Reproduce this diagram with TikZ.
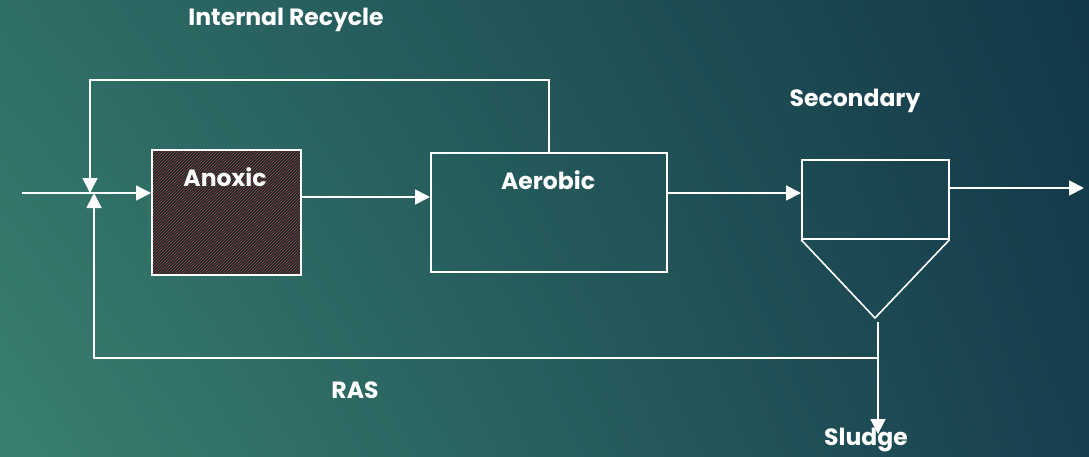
\documentclass[tikz,border=0pt]{standalone}
\usepackage{fontspec}
\setmainfont{Poppins}
\usetikzlibrary{arrows.meta,patterns,shadings}
\definecolor{bgTL}{HTML}{2F6E66}
\definecolor{bgTR}{HTML}{123848}
\definecolor{bgBL}{HTML}{3A8070}
\definecolor{bgBR}{HTML}{173F4E}
\definecolor{tankfill}{HTML}{172826}
\definecolor{hatch}{HTML}{94474A}
\tikzset{
  x=1pt, y=-1pt,
  flow/.style={draw=white, line width=1.8pt, -{Triangle[length=15pt,width=15pt]}},
  pipe/.style={draw=white, line width=1.8pt},
  tank/.style={draw=white, line width=1.6pt},
  lbl/.style={text=white, font=\fontsize{23.5}{26}\selectfont\bfseries, inner sep=0pt},
}
\begin{document}
\begin{tikzpicture}
  % background
  \shade[upper left=bgTL, upper right=bgTR, lower left=bgBL, lower right=bgBR]
    (0,0) rectangle (1089,456);
  \useasboundingbox (0,0) rectangle (1089,456);

  % junction points
  \coordinate (valve) at (92,193);
  \coordinate (in) at (22,193);
  \coordinate (rtop) at (90,80);
  \coordinate (rasL) at (94,358);
  \coordinate (rasR) at (878,358);
  \coordinate (sludgeEnd) at (878,434);
  \coordinate (outEnd) at (1084,188);

  % tanks
  \fill[tankfill] (151,149) rectangle (300,274);
  \fill[pattern=north east lines, pattern color=hatch] (151,149) rectangle (300,274);
  \node[tank, minimum width=149pt, minimum height=125pt, anchor=north west, inner sep=0pt] (anoxic) at (151,149) {};
  \node[tank, minimum width=236pt, minimum height=119pt, anchor=north west, inner sep=0pt] (aerobic) at (430,152) {};
  \node[tank, minimum width=147pt, minimum height=79pt, anchor=north west, inner sep=0pt] (clar) at (801,159) {};
  \coordinate (apex) at (875,318);
  \draw[tank, line join=miter] (clar.south west) -- (apex) -- (clar.south east);

  % labels
  \node[lbl] (tAnox) at (225,177) {Anoxic};
  \node[lbl] (tAer) at (548,180) {Aerobic};
  \node[lbl] (tIR) at (286,20) {Internal Recycle};
  \node[lbl] (tSec) at (855,101) {Secondary};
  \node[lbl] (tRAS) at (355,390) {RAS};
  \node[lbl] (tSl) at (866,440) {Sludge};

  % flows
  \draw[pipe] (in) -- (valve);
  \draw[flow] (valve) -- (anoxic.west |- valve);
  \draw[flow] (anoxic.east |- 0,197) -- (aerobic.west |- 0,197);
  \draw[flow] (aerobic.east |- 0,193) -- (clar.west |- 0,193);
  \draw[flow] (clar.east |- outEnd) -- (outEnd);

  % internal recycle
  \draw[flow] (aerobic.north) |- (rtop) -- (90,193);
  % return activated sludge
  \draw[flow] (rasR) -- (rasL) -- (94,193);
  % waste sludge
  \draw[flow] (878,322) -- (sludgeEnd);
\end{tikzpicture}
\end{document}
